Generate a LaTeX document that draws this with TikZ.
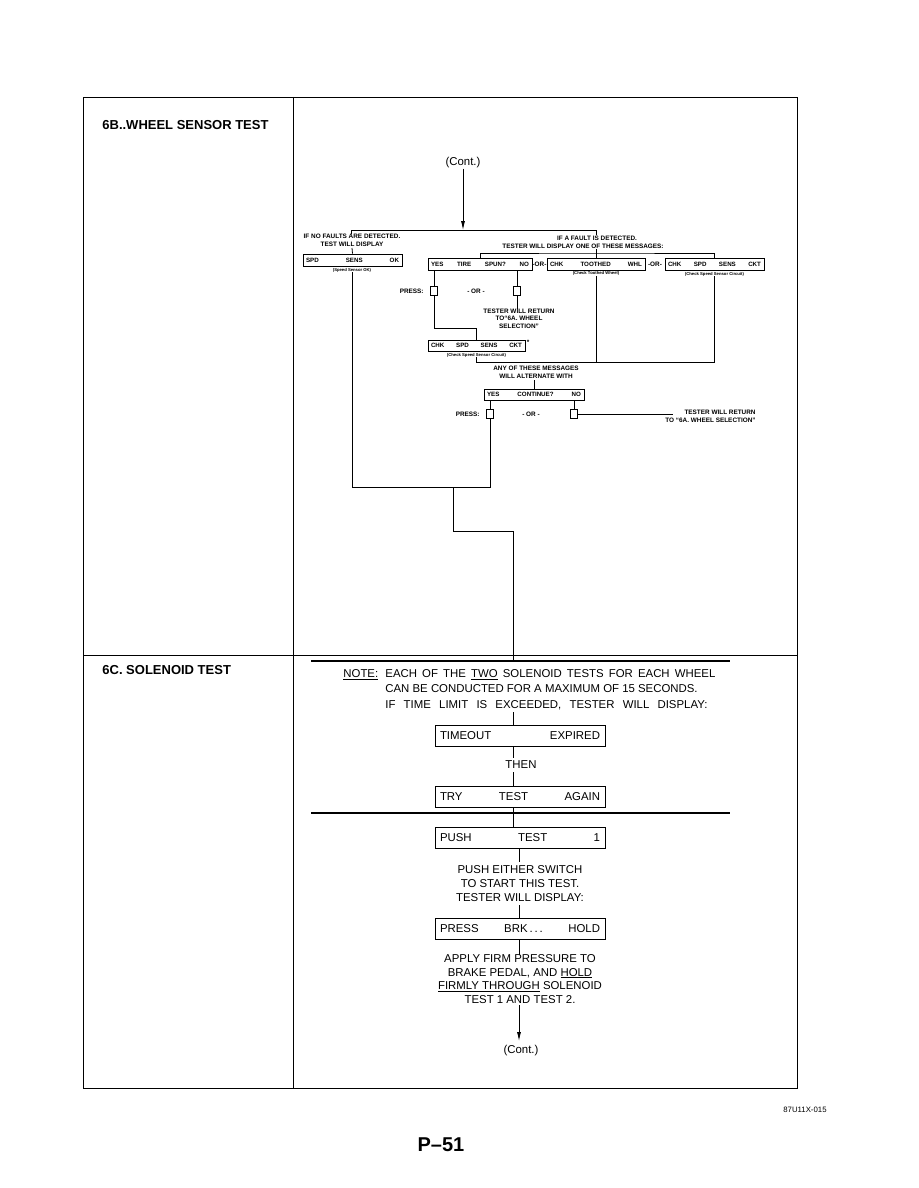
\documentclass[tikz,border=0pt]{standalone}
\usepackage{fontspec}
\setmainfont{Liberation Sans}
\usetikzlibrary{arrows.meta,calc}
\begin{document}
\begin{tikzpicture}[x=1pt,y=-1pt,line width=0.8pt,
  frame/.style={line width=0.9pt},
  tiny/.style={font=\fontsize{6.4}{7.6}\selectfont\bfseries,inner sep=0pt,align=center},
  capt/.style={font=\fontsize{4.2}{4.6}\selectfont\bfseries,inner sep=0pt},
  sbox/.style={draw,minimum height=12pt,inner sep=0pt,font=\fontsize{6.2}{6.6}\selectfont\bfseries},
  keysq/.style={draw,minimum width=7pt,minimum height=9pt,inner sep=0pt},
  body/.style={font=\fontsize{11.4}{14}\selectfont,inner sep=0pt},
  bbox/.style={draw,minimum width=170pt,minimum height=21pt,inner sep=0pt,font=\fontsize{11.4}{14}\selectfont},
  title/.style={font=\fontsize{13}{15}\selectfont\bfseries,inner sep=0pt,anchor=west},
  heavy/.style={line width=1.6pt},
  arr/.style={-{Latex[length=9pt,width=4pt]}}]
\useasboundingbox (0,0) rectangle (918,1188);

% frame
\draw[frame] (83,97) rectangle (797,1088);
\draw[frame] (293,97) -- (293,1088);
\draw[frame] (83,655) -- (797,655);

\node[title] (t6b) at (102,125) {6B..WHEEL SENSOR TEST};
\node[title] (t6c) at (102,670) {6C. SOLENOID TEST};

% ---------- top flowchart
\node[body] (cont1) at (463,163) {(Cont.)};
\coordinate (j0) at (463,230);
\coordinate (jl) at (351,230);
\coordinate (jl2) at (351,233.5);
\coordinate (jr) at (596,230);
\coordinate (jr2) at (596,235);
\draw[arr] (cont1) -- (j0);

\node[tiny] (nofault) at (352,240.5) {IF NO FAULTS ARE DETECTED.\\TEST WILL DISPLAY};
\node[tiny] (fault) at (583,242) {\hspace*{28pt}IF A FAULT IS DETECTED.\\TESTER WILL DISPLAY ONE OF THESE MESSAGES:};
\draw (jl2) -- (jl) -- (jr) -- (jr2);

\node[sbox,minimum width=99pt] (spd) at (352.5,260) {\makebox[93pt]{SPD\hfill SENS\hfill OK}};
\node[capt] (spdcap) at (352,270) {(Speed Sensor OK)};
\coordinate (s0) at (352,248);
\draw (s0) -- (spd.north);

\node[sbox,minimum width=104pt] (yes1) at (480,264) {\makebox[98pt]{YES\hfill TIRE\hfill SPUN?\hfill NO}};
\node[tiny] (or1) at (539.5,264) {-OR-};
\node[sbox,minimum width=98pt] (chkw) at (596,264) {\makebox[92pt]{CHK\hfill TOOTHED\hfill WHL}};
\node[tiny] (or2) at (655,264) {-OR-};
\node[sbox,minimum width=99pt] (chks) at (714.5,264) {\makebox[93pt]{CHK\hfill SPD\hfill SENS\hfill CKT}};
\node[capt] (chkwcap) at (596,273.5) {(Check Toothed Wheel)};
\node[capt] (chkscap) at (714.5,274) {(Check Speed Sensor Circuit)};
\coordinate (jf) at (596,253);
\coordinate (f0) at (596,249);
\draw (f0) -- (chkw.north);
\draw (yes1.north) |- (jf) -| (chks.north);

% press row 1
\node[tiny,anchor=east] (press1) at (424,291) {PRESS:};
\node[keysq] (sq1) at (434,291) {};
\node[tiny] (or3) at (476,291) {- OR -};
\node[keysq] (sq2) at (517,291) {};
\draw (yes1.south -| sq1) -- (sq1.north);
\draw (yes1.south -| sq2) -- (sq2.north);
\node[tiny] (ret1) at (519,318.5) {TESTER WILL RETURN\\TO``6A. WHEEL\\SELECTION''};
\coordinate (r1) at (517,309);
\draw (sq2.south) -- (r1);

\node[sbox,minimum width=97pt,minimum height=11pt] (chks2) at (476.5,345.5) {\makebox[91pt]{CHK\hfill SPD\hfill SENS\hfill CKT}};
\node[tiny,anchor=north west] (star) at ([xshift=1pt]chks2.north east) {*};
\node[capt] (chks2cap) at (476.5,355) {(Check Speed Sensor Circuit)};
\coordinate (k1) at (476.5,328);
\draw (sq1.south) |- (k1) -- (chks2.north);

\coordinate (m1) at (596,362);
\coordinate (m2) at (714.5,362);
\draw (chks2cap.south) |- (m2) -- (chkscap.south);
\draw (chkwcap.south) -- (m1);

\node[tiny] (anymsg) at (536,372) {ANY OF THESE MESSAGES\\WILL ALTERNATE WITH};
\node[sbox,minimum width=100pt,minimum height=11pt] (cont) at (534,394.5) {\makebox[94pt]{YES\hfill CONTINUE?\hfill NO}};
\coordinate (a0) at (534,380);
\draw (a0) -- (cont.north);

% press row 2
\node[tiny,anchor=east] (press2) at (480,414) {PRESS:};
\node[keysq] (sq3) at (490,414) {};
\node[tiny] (or4) at (531,414) {- OR -};
\node[keysq] (sq4) at (574,414) {};
\draw (cont.south -| sq3) -- (sq3.north);
\draw (cont.south -| sq4) -- (sq4.north);
\node[tiny,align=right,anchor=north east] (ret2) at (756,410) {TESTER WILL RETURN\\TO ``6A. WHEEL SELECTION''};
\coordinate (r2) at (673,414);
\draw (sq4.east) -- (r2);

% merge to bottom
\coordinate (b1) at (350,487);
\coordinate (b3) at (453,487);
\coordinate (b4) at (453,531);
\coordinate (b5) at (513,531);
\coordinate (b6) at (513,661);
\draw (spdcap.south) |- (sq3.south |- b1) -- (sq3.south);
\draw (b3) -- (b4) -- (b5) -- (b6);

% ---------- bottom section
\draw[heavy] (311,661) -- (730,661);
\node[body,anchor=north west] (note) at (343,669) {\underline{NOTE:}};
\node[body,anchor=north west,align=left,font=\fontsize{11.4}{15.5}\selectfont] (notetxt) at (385,669)
  {\makebox[330pt][s]{EACH OF THE \underline{TWO} SOLENOID TESTS FOR EACH WHEEL}\\
   CAN BE CONDUCTED FOR A MAXIMUM OF 15 SECONDS.\\
   \makebox[322pt][s]{IF TIME LIMIT IS EXCEEDED, TESTER WILL DISPLAY:}};

\coordinate (n0) at (513,712);
\coordinate (vx) at (513,0);
\coordinate (p0) at (519,862);
\coordinate (p1) at (519,905);
\coordinate (p2) at (519,955);
\coordinate (p3) at (519,1005);
\coordinate (p4) at (519,1041);
\node[bbox] (timeout) at (520,735.5) {\makebox[160pt]{TIMEOUT\hfill EXPIRED}};
\node[body,inner sep=3pt] (then) at (521,765) {THEN};
\node[bbox] (try) at (520,796.5) {\makebox[160pt]{TRY\hfill TEST\hfill AGAIN}};
\draw[heavy] (311,813) -- (730,813);
\node[bbox] (push) at (520,837.5) {\makebox[160pt]{PUSH\hfill TEST\hfill 1}};
\node[body,align=center] (pushtxt) at (520,884) {PUSH EITHER SWITCH\\TO START THIS TEST.\\TESTER WILL DISPLAY:};
\node[bbox] (pressb) at (520,929) {\makebox[160pt]{PRESS\hfill BRK\,.\,.\,.\hfill HOLD}};
\node[body,align=center,font=\fontsize{11.4}{13.5}\selectfont] (apply) at (520,979)
  {APPLY FIRM PRESSURE TO\\BRAKE PEDAL, AND \underline{HOLD}\\\underline{FIRMLY THROUGH} SOLENOID\\TEST 1 AND TEST 2.};
\node[body] (cont2) at (521,1051) {(Cont.)};

\draw (n0) -- (timeout.north -| vx);
\draw (timeout.south -| vx) -- (then.north -| vx);
\draw (then.south -| vx) -- (try.north -| vx);
\draw (try.south -| vx) -- (push.north -| vx);
\draw (push.south -| p0) -- (p0);
\draw (p1) -- (pressb.north -| p1);
\draw (pressb.south -| p2) -- (p2);
\draw[arr] (p3) -- (p4);

% footer
\node[font=\fontsize{7.8}{9}\selectfont,anchor=east,inner sep=0pt] (code) at (827,1110) {87U11X-015};
\node[font=\fontsize{20}{22}\selectfont\bfseries,inner sep=0pt] (page) at (441,1145) {P–51};
\end{tikzpicture}
\end{document}
